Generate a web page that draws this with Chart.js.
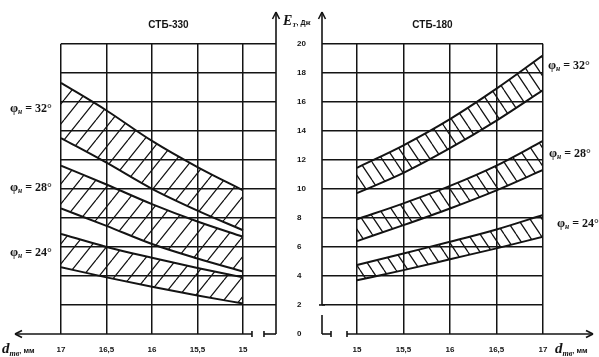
<!DOCTYPE html>
<html>
<head>
<meta charset="utf-8">
<script src="https://cdn.jsdelivr.net/npm/chart.js@4.4.1/dist/chart.umd.min.js"></script>
<style>
  html, body { margin: 0; padding: 0; background: #fff; }
  #wrap { position: relative; width: 599px; height: 357px; overflow: hidden; background: #fff; }
  #left { position: absolute; left: 0; top: 0; width: 290px; height: 357px; }
  #right { position: absolute; left: 276px; top: 0; width: 323px; height: 357px; }
</style>
</head>
<body>
<div id="wrap">
  <canvas id="left" width="290" height="357"></canvas>
  <canvas id="right" width="323" height="357"></canvas>
</div>
<script>
// Impact energy E_T (J) versus wire diameter d_тв (mm) for two loom types,
// each band bounded by an upper and lower curve for a given angle φн.

// СТБ-330 : diameter axis runs from 17 (left) to 15 (right)
const diamLeft = [17, 16.5, 16, 15.5, 15];
const stb330_32_hi = [17.3, 15.4, 13.3, 11.5, 9.9];
const stb330_32_lo = [13.5, 11.8, 10.0, 8.5, 7.15];
const stb330_28_hi = [11.6, 10.3, 8.95, 7.75, 6.7];
const stb330_28_lo = [8.65, 7.45, 6.2, 5.2, 4.3];
const stb330_24_hi = [6.9, 6.0, 5.25, 4.55, 3.9];
const stb330_24_lo = [4.6, 3.9, 3.25, 2.65, 2.1];

// СТБ-180 : diameter axis runs from 15 (left) to 17 (right)
const diamRight = [15, 15.5, 16, 16.5, 17];
const stb180_32_hi = [11.45, 13.0, 14.8, 16.9, 19.2];
const stb180_32_lo = [9.7, 11.1, 12.8, 14.7, 16.8];
const stb180_28_hi = [7.9, 9.0, 10.2, 11.6, 13.3];
const stb180_28_lo = [6.4, 7.5, 8.65, 9.9, 11.3];
const stb180_24_hi = [4.75, 5.55, 6.35, 7.2, 8.2];
const stb180_24_lo = [3.7, 4.4, 5.15, 5.9, 6.7];

const energyTicks = [0, 2, 4, 6, 8, 10, 12, 14, 16, 18, 20];
const diamTicks = [15, 15.5, 16, 16.5, 17];
const diamTickLabels = ['15', '15,5', '16', '16,5', '17'];
const angleLabels = ['32°', '28°', '24°'];

const INK = '#141414';
Chart.defaults.font.family = "'Liberation Sans', Arial, sans-serif";
Chart.defaults.color = INK;

function hatch(w, h, rising) {
  const c = document.createElement('canvas');
  c.width = w; c.height = h;
  const g = c.getContext('2d');
  g.strokeStyle = INK;
  g.lineWidth = 1.25;
  g.beginPath();
  for (const dx of [-w, 0, w]) {
    if (rising) { g.moveTo(dx, h); g.lineTo(dx + w, 0); }
    else { g.moveTo(dx, 0); g.lineTo(dx + w, h); }
  }
  g.stroke();
  return g.createPattern(c, 'repeat');
}

function pts(xs, ys) { return xs.map((x, i) => ({ x, y: ys[i] })); }

function band(xs, hi, lo, pattern) {
  const common = {
    borderColor: INK, borderWidth: 2, pointRadius: 0,
    cubicInterpolationMode: 'monotone'
  };
  return [
    Object.assign({ data: pts(xs, hi), fill: '+1', backgroundColor: pattern }, common),
    Object.assign({ data: pts(xs, lo), fill: false }, common)
  ];
}

function line(ctx, x1, y1, x2, y2) {
  ctx.beginPath(); ctx.moveTo(x1, y1); ctx.lineTo(x2, y2); ctx.stroke();
}

// draws a run of text pieces, each with its own font and baseline shift
function rich(ctx, x, y, parts) {
  ctx.textBaseline = 'alphabetic';
  ctx.textAlign = 'left';
  for (const p of parts) {
    ctx.font = p.font;
    ctx.fillText(p.t, x, y + (p.dy || 0));
    x += ctx.measureText(p.t).width + (p.gap || 0);
  }
}

function phiLabel(ctx, x, y, angle) {
  rich(ctx, x, y, [
    { t: 'φ', font: "bold 13px 'Liberation Serif'" },
    { t: 'н', font: "italic bold 7.5px 'Liberation Serif'", dy: 2, gap: 3 },
    { t: '= ' + angle, font: "bold 12px 'Liberation Serif'" }
  ]);
}

function diamTitle(ctx, x, y) {
  rich(ctx, x, y, [
    { t: 'd', font: "italic bold 15px 'Liberation Serif'" },
    { t: 'тв', font: "italic bold 8px 'Liberation Serif'", dy: 3 },
    { t: ', мм', font: "bold 7.5px 'Liberation Sans'" }
  ]);
}

function xScale(reverse, min) {
  return {
    type: 'linear', reverse, min, max: 17,
    afterBuildTicks: s => { s.ticks = diamTicks.map(v => ({ value: v })); },
    afterFit: s => { s.height = 23; },
    grid: { color: INK, lineWidth: 1.5, drawTicks: false },
    border: { display: false },
    ticks: {
      padding: 11, maxRotation: 0, autoSkip: false,
      font: { size: 8, weight: 'bold' }, color: INK,
      callback: v => diamTickLabels[diamTicks.indexOf(v)]
    }
  };
}

function yScale(showLabels, width) {
  return {
    type: 'linear', min: 0, max: 20,
    afterBuildTicks: s => { s.ticks = energyTicks.map(v => ({ value: v })); },
    afterFit: s => { s.width = width; },
    grid: {
      drawTicks: false, lineWidth: 1.5,
      color: c => (c.tick && c.tick.value === 0) ? 'rgba(0,0,0,0)' : INK
    },
    border: { display: false },
    ticks: {
      display: showLabels, crossAlign: 'far',
      font: { size: 8, weight: 'bold' }, color: INK
    }
  };
}

function titleOpts(text) {
  return {
    display: true, text, fullSize: false, color: INK,
    font: { size: 10, weight: 'bold' },
    padding: { top: 19, bottom: 12.7 }
  };
}

// axes with arrows and breaks for the СТБ-330 panel
const leftDecor = {
  id: 'leftDecor',
  afterDraw(chart) {
    const { ctx, chartArea: a, scales: { x, y } } = chart;
    const y0 = y.getPixelForValue(0);
    const x15 = x.getPixelForValue(15);
    ctx.save();
    ctx.strokeStyle = INK; ctx.fillStyle = INK; ctx.lineWidth = 1.6;
    // energy axis on the right edge
    line(ctx, a.right, y0, a.right, 12);
    line(ctx, a.right, 12, a.right - 3.5, 19);
    line(ctx, a.right, 12, a.right + 3.5, 19);
    // diameter axis pointing left, broken just after 15
    line(ctx, x15 + 9, y0, 15, y0);
    line(ctx, 15, y0, 22, y0 - 3.5);
    line(ctx, 15, y0, 22, y0 + 3.5);
    line(ctx, x15 + 9, y0 - 3, x15 + 9, y0 + 3);
    line(ctx, x15 + 21, y0 - 3, x15 + 21, y0 + 3);
    line(ctx, x15 + 21, y0, a.right, y0);
    diamTitle(ctx, 2, 353);
    const anchors = [15.6, 10.1, 5.65];
    anchors.forEach((v, i) => phiLabel(ctx, 10, y.getPixelForValue(v) + 4, angleLabels[i]));
    ctx.restore();
  }
};

// axes with arrows and breaks for the СТБ-180 panel
const rightDecor = {
  id: 'rightDecor',
  afterDraw(chart) {
    const { ctx, chartArea: a, scales: { x, y } } = chart;
    const y0 = y.getPixelForValue(0);
    const y2 = y.getPixelForValue(2);
    ctx.save();
    ctx.strokeStyle = INK; ctx.fillStyle = INK; ctx.lineWidth = 1.6;
    // energy axis, broken between 0 and 2
    line(ctx, a.left, y2, a.left, 12);
    line(ctx, a.left, 12, a.left - 3.5, 19);
    line(ctx, a.left, 12, a.left + 3.5, 19);
    line(ctx, a.left - 3, y2, a.left + 3, y2);
    line(ctx, a.left, y0 - 19, a.left, y0);
    line(ctx, a.left, y0, a.left + 9, y0);
    line(ctx, a.left + 9, y0 - 3, a.left + 9, y0 + 3);
    // diameter axis pointing right
    const tip = chart.width - 6;
    line(ctx, a.left + 25, y0 - 3, a.left + 25, y0 + 3);
    line(ctx, a.left + 25, y0, tip, y0);
    line(ctx, tip, y0, tip - 7, y0 - 3.5);
    line(ctx, tip, y0, tip - 7, y0 + 3.5);
    diamTitle(ctx, a.right + 12, 353);
    // energy axis title
    rich(ctx, 7, 25, [
      { t: 'E', font: "italic bold 14px 'Liberation Serif'" },
      { t: 'T', font: "italic bold 7px 'Liberation Serif'", dy: 2 },
      { t: ', Дж', font: "bold 7px 'Liberation Sans'" }
    ]);
    const anchors = [18.5, 12.45, 7.65];
    const offs = [5, 6, 14];
    anchors.forEach((v, i) => phiLabel(ctx, a.right + offs[i], y.getPixelForValue(v) + 4, angleLabels[i]));
    ctx.restore();
  }
};

const hatchLeft = hatch(16, 20, true);
const hatchRight = hatch(12, 18, false);

new Chart(document.getElementById('left'), {
  type: 'line',
  data: {
    datasets: [
      ...band(diamLeft, stb330_32_hi, stb330_32_lo, hatchLeft),
      ...band(diamLeft, stb330_28_hi, stb330_28_lo, hatchLeft),
      ...band(diamLeft, stb330_24_hi, stb330_24_lo, hatchLeft)
    ]
  },
  options: {
    responsive: false, animation: false, devicePixelRatio: 1,
    layout: { padding: { left: 61, right: 14, top: 0, bottom: 0 } },
    plugins: { legend: { display: false }, tooltip: { enabled: false }, title: titleOpts('СТБ-330') },
    scales: { x: xScale(true, 14.637), y: yScale(false, 0) }
  },
  plugins: [leftDecor]
});

new Chart(document.getElementById('right'), {
  type: 'line',
  data: {
    datasets: [
      ...band(diamRight, stb180_32_hi, stb180_32_lo, hatchRight),
      ...band(diamRight, stb180_28_hi, stb180_28_lo, hatchRight),
      ...band(diamRight, stb180_24_hi, stb180_24_lo, hatchRight)
    ]
  },
  options: {
    responsive: false, animation: false, devicePixelRatio: 1,
    layout: { padding: { left: 21, right: 56, top: 0, bottom: 0 } },
    plugins: { legend: { display: false }, tooltip: { enabled: false }, title: titleOpts('СТБ-180') },
    scales: { x: xScale(false, 14.624), y: yScale(true, 25) }
  },
  plugins: [rightDecor]
});
</script>
</body>
</html>
